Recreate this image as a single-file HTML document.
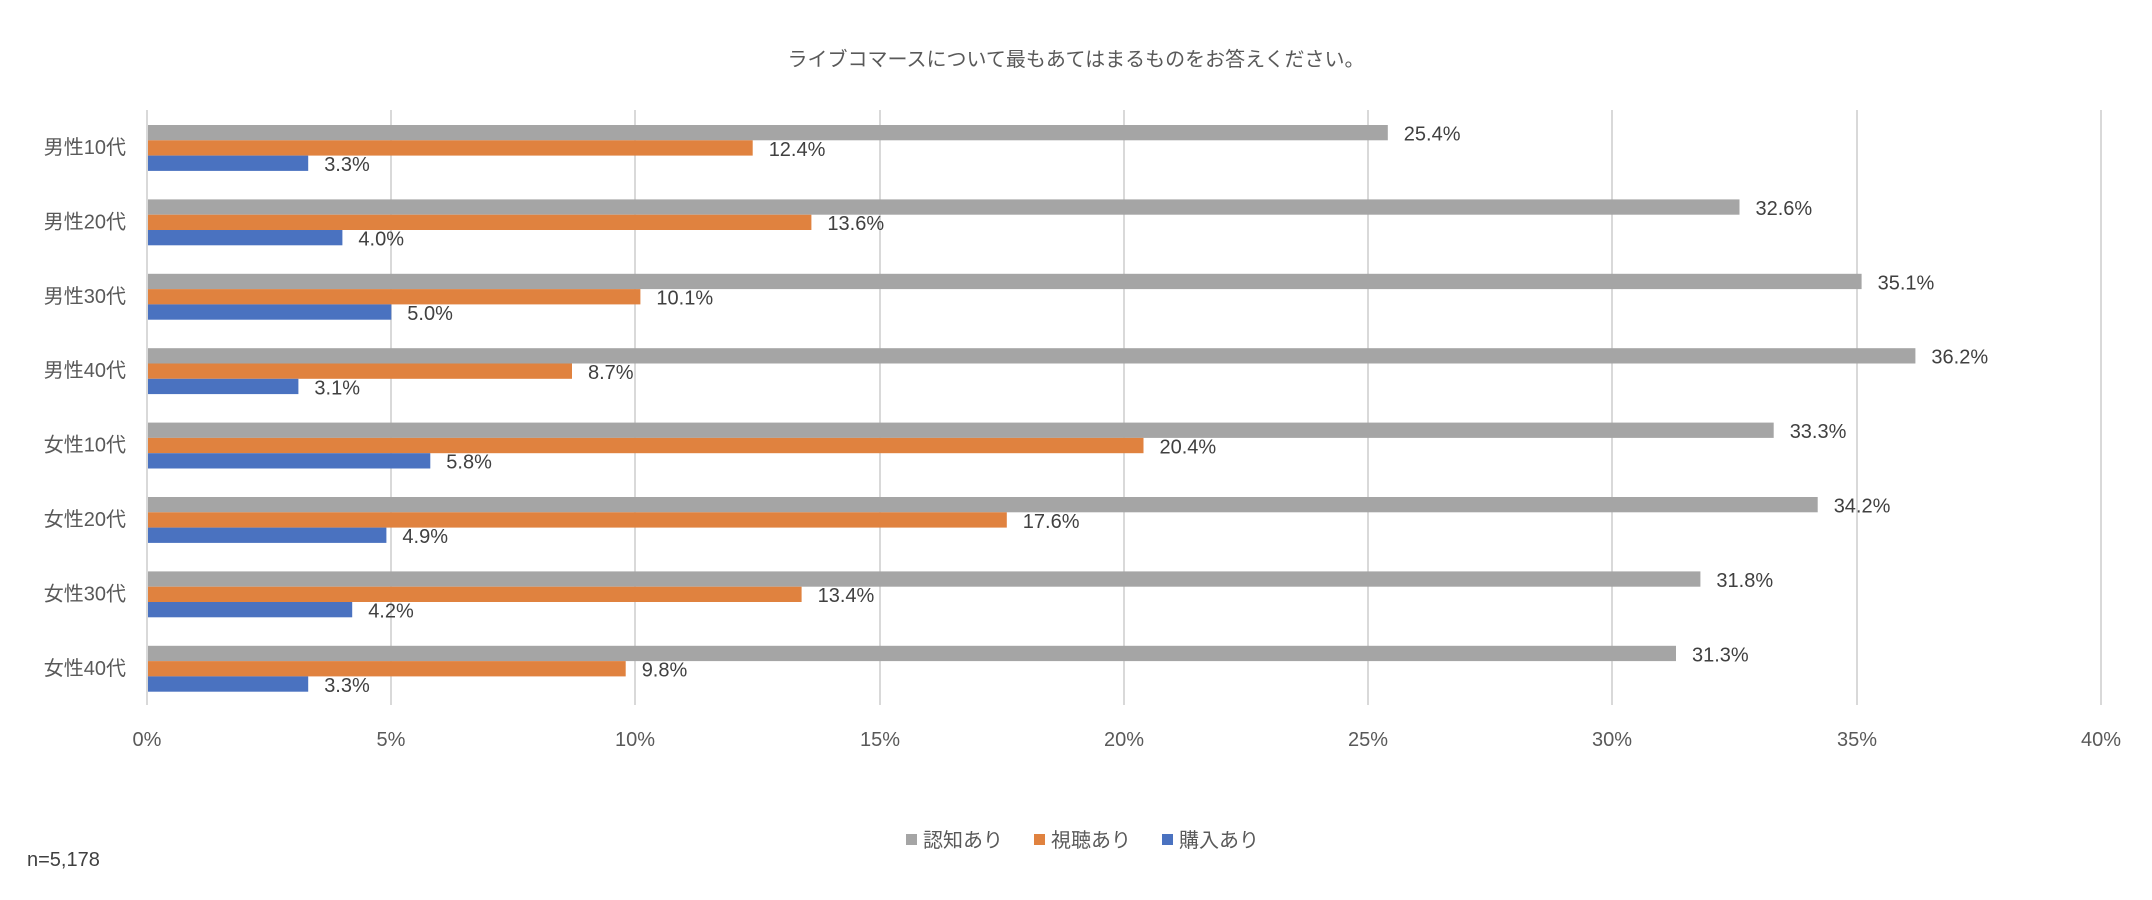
<!DOCTYPE html>
<html><head><meta charset="utf-8"><style>
html,body{margin:0;padding:0;background:#fff;}
svg{display:block;font-family:"Liberation Sans","Noto Sans CJK JP",sans-serif;}
</style></head><body>
<svg width="2152" height="900" viewBox="0 0 2152 900" xmlns="http://www.w3.org/2000/svg">
<rect width="2152" height="900" fill="#fff"/>
<text x="1076" y="66" text-anchor="middle" font-size="20" fill="#595959">ライブコマースについて最もあてはまるものをお答えください。</text>
<g stroke="#D9D9D9" stroke-width="2">
<line x1="147" y1="110" x2="147" y2="705"/><line x1="391" y1="110" x2="391" y2="705"/>
<line x1="635" y1="110" x2="635" y2="705"/><line x1="880" y1="110" x2="880" y2="705"/>
<line x1="1124" y1="110" x2="1124" y2="705"/><line x1="1368" y1="110" x2="1368" y2="705"/>
<line x1="1612" y1="110" x2="1612" y2="705"/><line x1="1857" y1="110" x2="1857" y2="705"/>
<line x1="2101" y1="110" x2="2101" y2="705"/>
</g>
<g font-size="20" fill="#595959" text-anchor="middle">
<text x="147" y="746">0%</text><text x="391" y="746">5%</text><text x="635" y="746">10%</text>
<text x="880" y="746">15%</text><text x="1124" y="746">20%</text><text x="1368" y="746">25%</text>
<text x="1612" y="746">30%</text><text x="1857" y="746">35%</text><text x="2101" y="746">40%</text>
</g>
<g font-size="20" fill="#595959" text-anchor="end">
<text x="126" y="154">男性10代</text>
<text x="126" y="228.4">男性20代</text>
<text x="126" y="302.8">男性30代</text>
<text x="126" y="377.2">男性40代</text>
<text x="126" y="451.6">女性10代</text>
<text x="126" y="526">女性20代</text>
<text x="126" y="600.4">女性30代</text>
<text x="126" y="674.8">女性40代</text>
</g>
<g fill="#A5A5A5">
<rect x="148" y="125" width="1239.8" height="15.3"/>
<rect x="148" y="199.4" width="1591.5" height="15.3"/>
<rect x="148" y="273.8" width="1713.6" height="15.3"/>
<rect x="148" y="348.2" width="1767.4" height="15.3"/>
<rect x="148" y="422.6" width="1625.7" height="15.3"/>
<rect x="148" y="497" width="1669.7" height="15.3"/>
<rect x="148" y="571.4" width="1552.4" height="15.3"/>
<rect x="148" y="645.8" width="1528" height="15.3"/>
</g>
<g fill="#E0823F">
<rect x="148" y="140.3" width="604.7" height="15.3"/>
<rect x="148" y="214.7" width="663.4" height="15.3"/>
<rect x="148" y="289.1" width="492.4" height="15.3"/>
<rect x="148" y="363.5" width="424" height="15.3"/>
<rect x="148" y="437.9" width="995.5" height="15.3"/>
<rect x="148" y="512.3" width="858.8" height="15.3"/>
<rect x="148" y="586.7" width="653.6" height="15.3"/>
<rect x="148" y="661.1" width="477.7" height="15.3"/>
</g>
<g fill="#4A72C0">
<rect x="148" y="155.6" width="160.2" height="15.3"/>
<rect x="148" y="230" width="194.4" height="15.3"/>
<rect x="148" y="304.4" width="243.3" height="15.3"/>
<rect x="148" y="378.8" width="150.4" height="15.3"/>
<rect x="148" y="453.2" width="282.3" height="15.3"/>
<rect x="148" y="527.6" width="238.4" height="15.3"/>
<rect x="148" y="602" width="204.2" height="15.3"/>
<rect x="148" y="676.4" width="160.2" height="15.3"/>
</g>
<g font-size="20" fill="#404040">
<text x="1403.8" y="140.5">25.4%</text>
<text x="768.7" y="155.8">12.4%</text>
<text x="324.2" y="171.1">3.3%</text>
<text x="1755.5" y="214.9">32.6%</text>
<text x="827.4" y="230.2">13.6%</text>
<text x="358.4" y="245.5">4.0%</text>
<text x="1877.6" y="289.3">35.1%</text>
<text x="656.4" y="304.6">10.1%</text>
<text x="407.3" y="319.9">5.0%</text>
<text x="1931.4" y="363.7">36.2%</text>
<text x="588" y="379">8.7%</text>
<text x="314.4" y="394.3">3.1%</text>
<text x="1789.7" y="438.1">33.3%</text>
<text x="1159.5" y="453.4">20.4%</text>
<text x="446.3" y="468.7">5.8%</text>
<text x="1833.7" y="512.5">34.2%</text>
<text x="1022.8" y="527.8">17.6%</text>
<text x="402.4" y="543.1">4.9%</text>
<text x="1716.4" y="586.9">31.8%</text>
<text x="817.6" y="602.2">13.4%</text>
<text x="368.2" y="617.5">4.2%</text>
<text x="1692" y="661.3">31.3%</text>
<text x="641.7" y="676.6">9.8%</text>
<text x="324.2" y="691.9">3.3%</text>
</g>
<rect x="906" y="834" width="11" height="11" fill="#A5A5A5"/>
<rect x="1034" y="834" width="11" height="11" fill="#E0823F"/>
<rect x="1162" y="834" width="11" height="11" fill="#4A72C0"/>
<g font-size="20" fill="#595959">
<text x="923" y="847">認知あり</text>
<text x="1051" y="847">視聴あり</text>
<text x="1179" y="847">購入あり</text>
<text x="27" y="866" fill="#404040">n=5,178</text>
</g>
</svg>
</body></html>
